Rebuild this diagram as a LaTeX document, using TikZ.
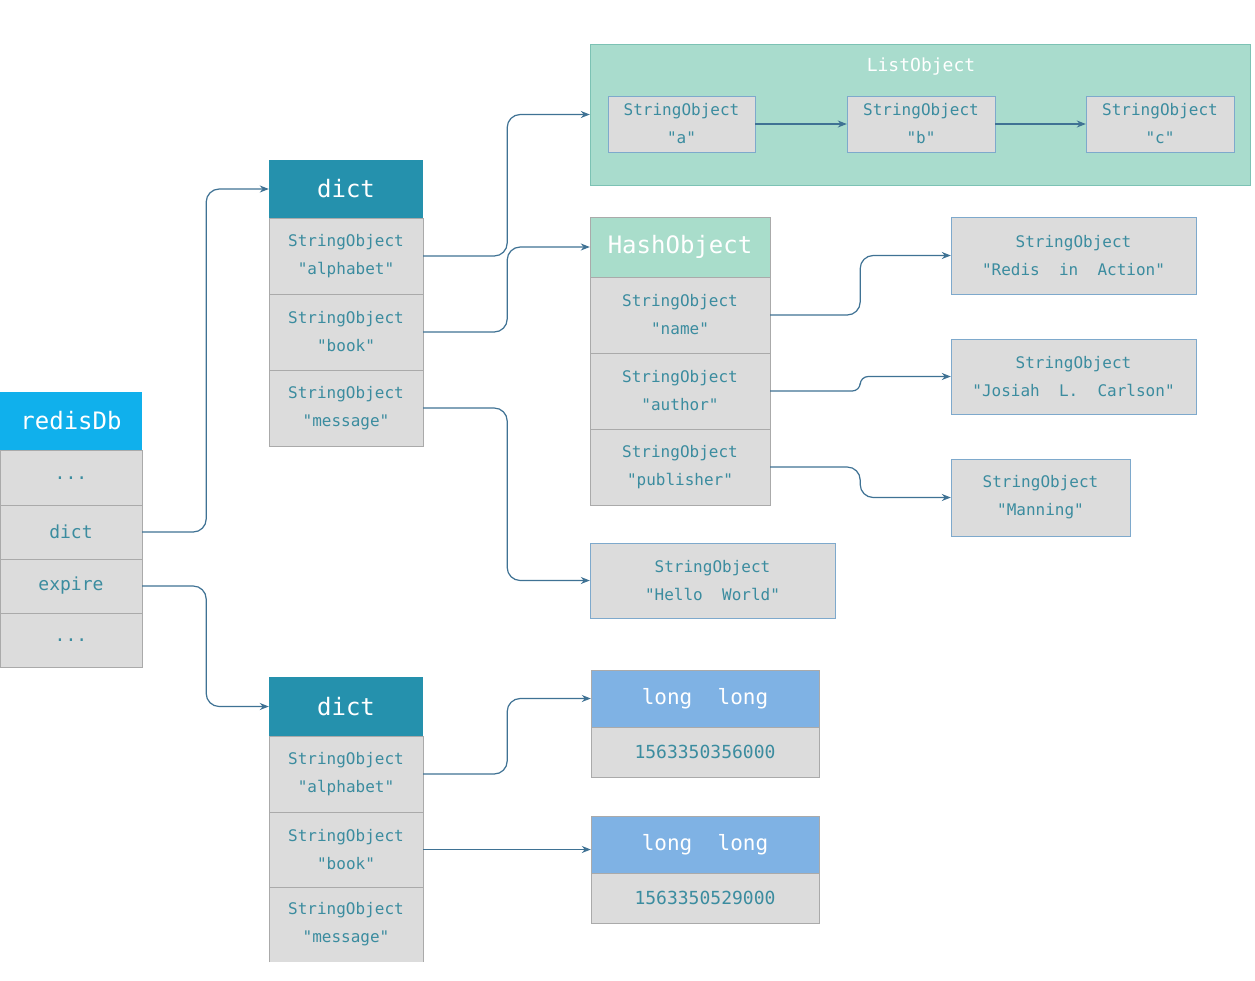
\documentclass[tikz,border=0pt]{standalone}
\usepackage{fontspec}
\setmonofont{DejaVu Sans Mono}
\usetikzlibrary{arrows.meta}
\definecolor{rdblue}{HTML}{10B0EC}
\definecolor{dictteal}{HTML}{2591AD}
\definecolor{rowgray}{HTML}{DCDCDC}
\definecolor{rowline}{HTML}{AAAAAA}
\definecolor{boxline}{HTML}{7EA9CC}
\definecolor{listfill}{HTML}{A9DCCD}
\definecolor{listline}{HTML}{7CC2B4}
\definecolor{hashfill}{HTML}{A9DDCB}
\definecolor{longfill}{HTML}{7FB2E4}
\definecolor{txt}{HTML}{3B8C9F}
\definecolor{conncol}{HTML}{3F7294}
\tikzset{
  cell/.style={draw=rowline, fill=rowgray, inner sep=0pt, text=txt, align=center,
    font=\ttfamily\fontsize{16}{28}\selectfont},
  sbox/.style={cell, draw=boxline},
  head/.style={inner sep=0pt, text=white, align=center, font=\ttfamily\fontsize{24}{28}\selectfont},
  small/.style={font=\ttfamily\fontsize{18}{24}\selectfont},
  conn/.style={draw=conncol, line width=1.2pt, rounded corners=13pt, -{Stealth[length=9pt,width=7pt]}}
}
\begin{document}
\begin{tikzpicture}[x=1pt,y=-1pt]
\useasboundingbox[fill=white] (0,0) rectangle (1255,980);

% redisDb
\node[head, fill=rdblue, minimum width=142, minimum height=58] (rdh) at (71,421) {redisDb};
\node[cell, small, minimum width=142, minimum height=55] (rd1) at (71,477.5) {\raisebox{-3pt}{...}};
\node[cell, small, minimum width=142, minimum height=54] (rddict) at (71,532) {dict};
\node[cell, small, minimum width=142, minimum height=54] (rdexp) at (71,586) {expire};
\node[cell, small, minimum width=142, minimum height=54] (rd4) at (71,640) {\raisebox{-3pt}{...}};

% top dict
\node[head, fill=dictteal, minimum width=154, minimum height=58] (d1h) at (346,189) {dict};
\node[cell, minimum width=154, minimum height=76] (d1a) at (346,256) {StringObject\\"alphabet"};
\node[cell, minimum width=154, minimum height=76] (d1b) at (346,332) {StringObject\\"book"};
\node[cell, minimum width=154, minimum height=76] (d1m) at (346,408) {StringObject\\"message"};

% ListObject
\node[draw=listline, fill=listfill, minimum width=660, minimum height=141, inner sep=0pt] (list) at (920,114.5) {};
\node[text=white, font=\ttfamily\fontsize{18}{20}\selectfont, inner sep=0pt] (listt) at (921,67) {ListObject};
\node[sbox, minimum width=147, minimum height=56] (la) at (681.5,124) {StringObject\\"a"};
\node[sbox, minimum width=148, minimum height=56] (lb) at (921,124) {StringObject\\"b"};
\node[sbox, minimum width=148, minimum height=56] (lc) at (1160,124) {StringObject\\"c"};

% HashObject
\node[head, fill=hashfill, draw=rowline, minimum width=180, minimum height=60] (hh) at (680,247) {HashObject};
\node[cell, minimum width=180, minimum height=76] (hn) at (680,315) {StringObject\\"name"};
\node[cell, minimum width=180, minimum height=76] (ha) at (680,391) {StringObject\\"author"};
\node[cell, minimum width=180, minimum height=76] (hp) at (680,467) {StringObject\\"publisher"};

% values
\node[sbox, minimum width=245, minimum height=77] (vr) at (1073.5,255.5) {StringObject\\"Redis~~in~~Action"};
\node[sbox, minimum width=245, minimum height=75] (vj) at (1073.5,376.5) {StringObject\\"Josiah~~L.~~Carlson"};
\node[sbox, minimum width=179, minimum height=77] (vm) at (1040.5,497.5) {StringObject\\"Manning"};
\node[sbox, minimum width=245, minimum height=75] (vh) at (712.5,580.5) {StringObject\\"Hello~~World"};

% bottom dict
\node[head, fill=dictteal, minimum width=154, minimum height=59] (d2h) at (346,706.5) {dict};
\node[cell, minimum width=154, minimum height=76] (d2a) at (346,774) {StringObject\\"alphabet"};
\node[cell, minimum width=154, minimum height=75] (d2b) at (346,849.5) {StringObject\\"book"};
\node[cell, draw=none, minimum width=154, minimum height=75] (d2m) at (346,924.5) {StringObject\\"message"};
\draw[rowline] (d2m.south west) -- (d2m.north west) -- (d2m.north east) -- (d2m.south east);

% long long
\node[head, font=\ttfamily\fontsize{21}{24}\selectfont, fill=longfill, draw=rowline, minimum width=228, minimum height=57] (l1h) at (705,698.5) {long~~long};
\node[cell, small, minimum width=228, minimum height=50] (l1v) at (705,752) {1563350356000};
\node[head, font=\ttfamily\fontsize{21}{24}\selectfont, fill=longfill, draw=rowline, minimum width=228, minimum height=57] (l2h) at (705,844.5) {long~~long};
\node[cell, small, minimum width=228, minimum height=50] (l2v) at (705,898) {1563350529000};

% connectors
\draw[conn] (rddict.east) -- ++(64,0) |- (d1h.west);
\draw[conn] (rdexp.east) -- ++(64,0) |- (d2h.west);
\draw[conn] (d1a.east) -- ++(84,0) |- (list.west);
\draw[conn] (d1b.east) -- ++(84,0) |- (hh.west);
\draw[conn] (d1m.east) -- ++(84,0) |- (vh.west);
\draw[conn] (hn.east) -- ++(90,0) |- (vr.west);
\draw[conn, rounded corners=8pt] (ha.east) -- ++(90,0) |- (vj.west);
\draw[conn] (hp.east) -- ++(90,0) |- (vm.west);
\draw[conn] (la.east) -- (lb.west);
\draw[conn] (lb.east) -- (lc.west);
\draw[conn] (d2a.east) -- ++(84,0) |- (l1h.west);
\draw[conn] (d2b.east) -- (d2b.east -| l2h.west);
\end{tikzpicture}
\end{document}
